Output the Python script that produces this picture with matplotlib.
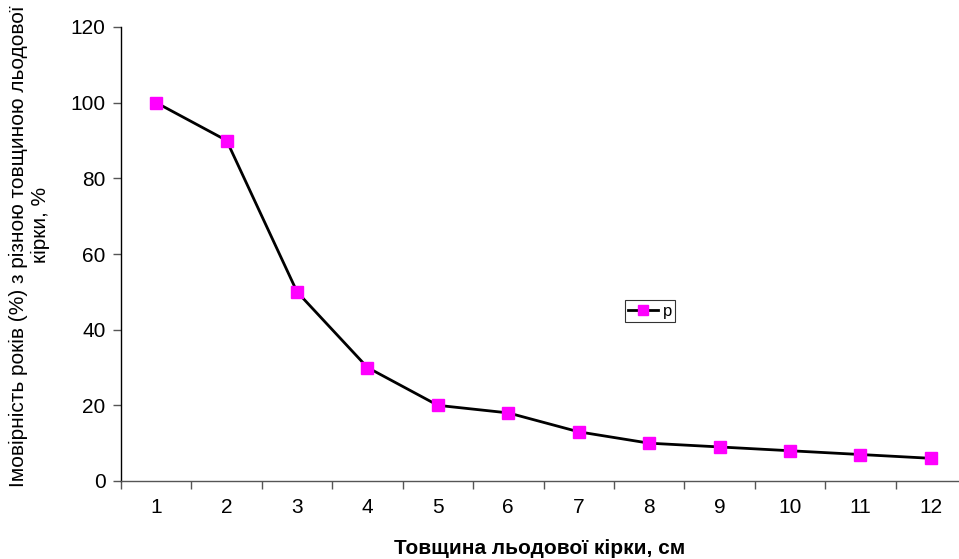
import numpy as np
import matplotlib.pyplot as plt

plt.rcParams['font.family'] = ['Liberation Sans', 'DejaVu Sans']

thickness = [1, 2, 3, 4, 5, 6, 7, 8, 9, 10, 11, 12]
prob = [100, 90, 50, 30, 20, 18, 13, 10, 9, 8, 7, 6]

fig = plt.figure(figsize=(9.59, 5.59), dpi=100)
ax = fig.add_axes([121/959, 1 - 481/559, (966-121)/959, (481-27)/559])

ax.plot(thickness, prob, color='black', lw=2.0, marker='s', ms=9,
        mfc='#FF00FF', mec='#FF00FF', label='p')

ax.set_xlim(0.5, 12.5)
ax.set_ylim(0, 120)
ax.set_yticks(np.arange(0, 121, 20))
ax.set_xticks(thickness)
ax.set_xticks(np.arange(0.5, 12.6, 1), minor=True)
ax.tick_params(axis='x', which='major', length=0, labelsize=15, pad=12)
ax.tick_params(axis='x', which='minor', length=6, width=1, color='#555555', direction='out')
ax.tick_params(axis='y', length=6, width=1, color='#555555', labelsize=15, pad=5)

for s in ['top', 'right']:
    ax.spines[s].set_visible(False)
ax.spines['left'].set_linewidth(1)
ax.spines['bottom'].set_linewidth(1)
ax.spines['bottom'].set_color('#555555')

ax.set_xlabel('Товщина льодової кірки, см', fontsize=15, fontweight='bold', va='center')
ax.xaxis.set_label_coords((540-121)/845, -(548-481)/454)

# y label drawn as two lines, the second one sits a bit higher like in the original
fig.text(18/959, 1 - 246/559, 'Імовірність років (%) з різною товщиною льодової',
         rotation=90, ha='center', va='center', fontsize=15)
fig.text(40/959, 1 - 225/559, 'кірки, %', rotation=90, ha='center', va='center', fontsize=15)

leg = ax.legend(loc='center', bbox_to_anchor=(0.626, 0.374), fontsize=12, frameon=True,
                fancybox=False, edgecolor='black', handlelength=1.8, handletextpad=0.3,
                borderpad=0.2, markerscale=0.8)
leg.get_frame().set_linewidth(0.8)

fig.savefig('out.png', dpi=100)
